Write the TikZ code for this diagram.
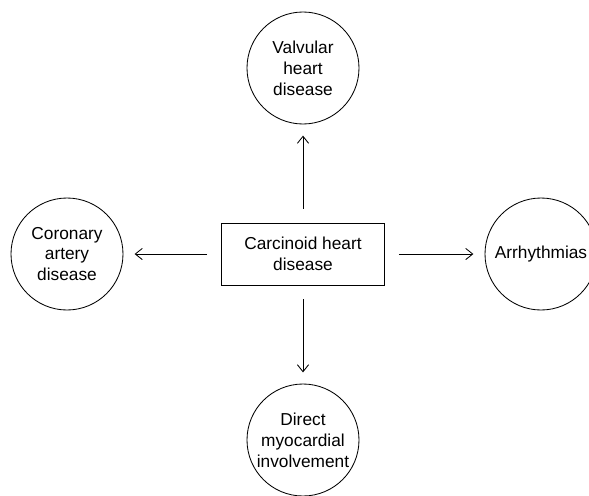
\documentclass[tikz,border=0pt]{standalone}
\usepackage{fontspec}
\setmainfont{Liberation Sans}
\usetikzlibrary{arrows.meta}

\begin{document}
\begin{tikzpicture}[-{Straight Barb[length=5pt,width=8pt]}, line width=0.6pt,
	every node/.style={font=\fontsize{12.3}{14.9}\selectfont, align=center},
	ring/.style={draw, circle, minimum size=2.8cm, inner sep=0pt},
	box/.style={draw, rectangle, minimum width=4.075cm, minimum height=1.55cm},
	link/.style={shorten >=0.28cm, shorten <=0.35cm}]
	\useasboundingbox (-7.575,-6.025) rectangle (7.15,6.35);
	\node[box] (CHD) at (0,0) {Carcinoid heart\\disease};
	\node[ring] (VHD) at (0,4.65) {Valvular\\heart\\disease};
	\node[ring] (CAD) at (-5.9,0) {Coronary\\artery\\disease};
	\node[ring] (ARR) at (5.95,0) {Arrhythmias};
	\node[ring] (DMI) at (0,-4.65) {Direct\\myocardial\\involvement};
	\draw[link] (CHD) to (VHD);
	\draw[link] (CHD) to (CAD);
	\draw[link] (CHD) to (ARR);
	\draw[link] (CHD) to (DMI);
\end{tikzpicture}
\end{document}
